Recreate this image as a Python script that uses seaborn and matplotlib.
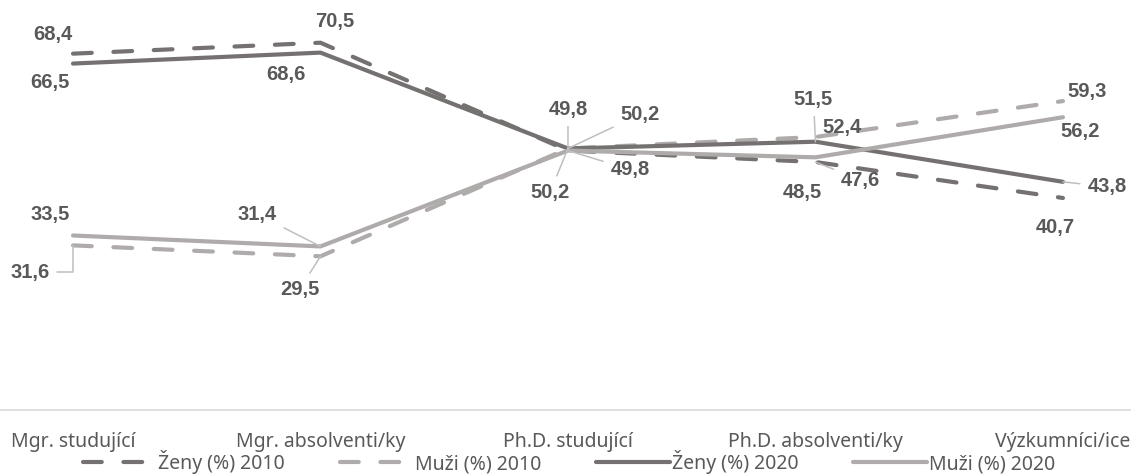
import matplotlib
matplotlib.use("Agg")
import matplotlib.pyplot as plt
import seaborn as sns
import pandas as pd

categories = ["Mgr. studující", "Mgr. absolventi/ky", "Ph.D. studující",
              "Ph.D. absolventi/ky", "Výzkumníci/ice"]
zeny_2010 = [68.4, 70.5, 49.8, 47.6, 40.7]
muzi_2010 = [31.6, 29.5, 50.2, 52.4, 59.3]
zeny_2020 = [66.5, 68.6, 50.2, 51.5, 43.8]
muzi_2020 = [33.5, 31.4, 49.8, 48.5, 56.2]
series_names = ["Ženy (%) 2010", "Muži (%) 2010", "Ženy (%) 2020", "Muži (%) 2020"]

sns.set_theme(style="white")
plt.rcParams["font.family"] = ["Noto Sans", "DejaVu Sans"]

DARK = "#767171"
LIGHT = "#AFABAB"
TEXT = "#595959"
LEADER = "#BFBFBF"

fig = plt.figure(figsize=(11.31, 4.74), dpi=100)
ax = fig.add_axes([0, 0.135, 1, 0.865])

styles = [
    (zeny_2010, DARK, True),
    (muzi_2010, LIGHT, True),
    (zeny_2020, DARK, False),
    (muzi_2020, LIGHT, False),
]
handles = []
for (vals, col, dashed), name in zip(styles, series_names):
    df = pd.DataFrame({"cat": categories, "val": vals})
    sns.lineplot(data=df, x="cat", y="val", sort=False, ax=ax, color=col,
                 lw=3.0, legend=False)
    ln = ax.lines[-1]
    ln.set_solid_capstyle("round")
    if dashed:
        ln.set_dashes((4.5, 5.2))
        ln.set_dash_capstyle("round")
    handles.append(ln)

# label offsets in pixels (dx, dy) per series, and leader-line style
offsets = [
    [(-20, 19, None), (14, 21, None), (0, 41, "arc3"), (45, -18, "arc3"), (-8, -30, None)],
    [(-43, -27, "angle,angleA=0,angleB=90,rad=0"), (-21, -33, "arc3"), (72, 34, "arc3"), (27, 10, None), (24, 10, None)],
    [(-23, -19, None), (-35, -22, None), (-18, -44, "arc3"), (-2, 42, "arc3"), (44, -5, "arc3")],
    [(-23, 21, None), (-63, 32, "arc3"), (62, -19, "arc3"), (-13, -35, None), (17, -14, None)],
]
for (vals, col, dashed), offs in zip(styles, offsets):
    for i, (v, (dx, dy, lead)) in enumerate(zip(vals, offs)):
        kw = {}
        if lead:
            kw["arrowprops"] = dict(arrowstyle="-", color=LEADER, lw=1.1,
                                    shrinkA=3, shrinkB=0, connectionstyle=lead)
        ax.annotate(f"{v:.1f}".replace(".", ","), xy=(i, v), xytext=(dx, dy),
                    textcoords="offset pixels", ha="center", va="center",
                    family=["Liberation Sans", "DejaVu Sans"],
                    fontsize=14.5, fontweight="bold", color=TEXT, **kw)

ax.set_xlim(-0.295, 4.275)
ax.set_ylim(0, 78.7)
ax.set_xlabel("")
ax.set_ylabel("")
ax.set_yticks([])
for s in ["top", "left", "right"]:
    ax.spines[s].set_visible(False)
ax.spines["bottom"].set_color("#D9D9D9")
ax.spines["bottom"].set_linewidth(1.2)
ax.tick_params(axis="x", length=0, pad=16, labelsize=14, labelcolor=TEXT)

fig.legend(handles, series_names, loc="center", bbox_to_anchor=(0.503, 0.025),
           ncol=4, frameon=False, fontsize=14, labelcolor=TEXT,
           handlelength=3.8, handletextpad=0.1, columnspacing=2.8,
           borderpad=0, borderaxespad=0)

fig.savefig("out.png", dpi=100)
